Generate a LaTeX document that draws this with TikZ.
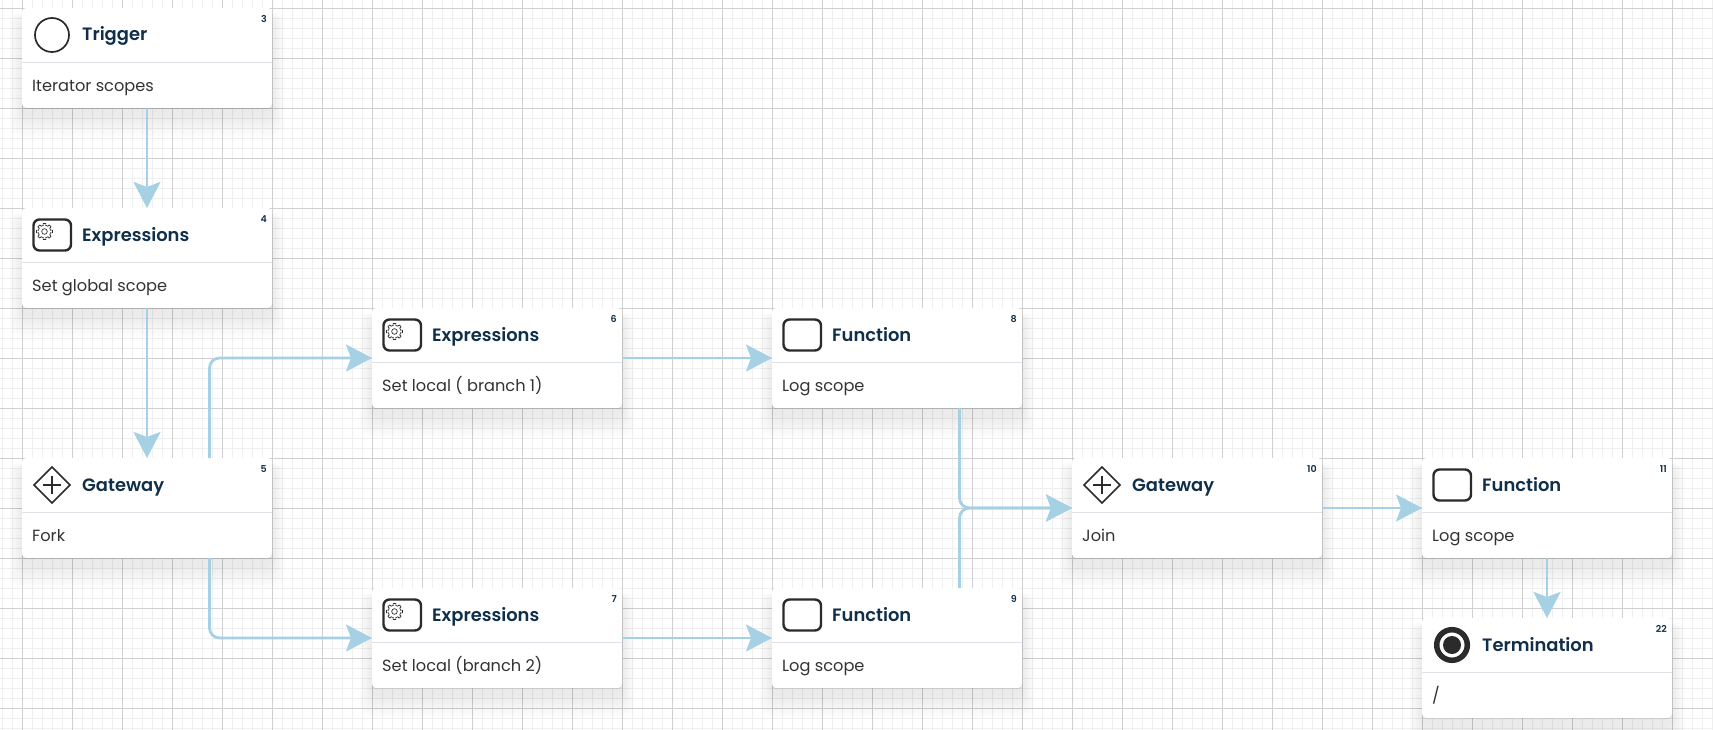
\documentclass[tikz,border=0pt]{standalone}
\usepackage{fontspec}
\setmainfont{Poppins}[BoldFont={Poppins SemiBold}]
\usetikzlibrary{arrows.meta,calc}
\definecolor{gridminor}{HTML}{EFEFEF}
\definecolor{gridmajor}{HTML}{D0D0D0}
\definecolor{flow}{HTML}{A6D0E4}
\definecolor{titleblue}{HTML}{0F2F4A}
\definecolor{bodygrey}{HTML}{333333}
\definecolor{iconink}{HTML}{2B2B2B}
\definecolor{rulegrey}{HTML}{DFE1E8}
\tikzset{
  x=1pt,y=-1pt,
  cardbox/.style={fill=white,rounded corners=4pt,minimum width=250pt,minimum height=100pt,inner sep=0pt,outer sep=0pt,anchor=north west},
  cardtitle/.style={anchor=base west,inner sep=0pt,text=titleblue,font=\fontsize{17.9}{20}\selectfont\bfseries},
  cardbody/.style={anchor=base west,inner sep=0pt,text=bodygrey,font=\fontsize{16.2}{18}\selectfont},
  cardnum/.style={anchor=base east,inner sep=0pt,text=titleblue,font=\fontsize{9.5}{10}\selectfont\bfseries},
  flowline/.style={draw=flow,line width=2.8pt,rounded corners=10pt,-{Stealth[length=26pt,width=27pt,inset=5pt,fill=flow]}},
  iconline/.style={draw=iconink,line width=1.7pt},
}
\newcommand{\iconcircle}{\draw[iconline] (30,27) circle[radius=17];}
\newcommand{\icontask}{\draw[iconline,line width=2.4pt,rounded corners=6pt] (11.5,11.5) rectangle (49,42.5);}
\newcommand{\icongear}{%
  \draw[iconink,line width=.7pt] plot[domain=0:360,samples=145,variable=\t] ({22.5+(6.2+1.8*(cos(8*\t)>0))*cos(\t)},{23.5+(6.2+1.8*(cos(8*\t)>0))*sin(\t)}) -- cycle;
  \draw[iconink,line width=.7pt] (22.5,23.5) circle[radius=2.8];}
\newcommand{\iconexpr}{\icontask\icongear}
\newcommand{\icongate}{\draw[iconline,line join=miter] (30,9) -- (48,27) -- (30,45) -- (12,27) -- cycle;
  \draw[iconline] (21,27) -- (39,27) (30,18) -- (30,36);}
\newcommand{\iconend}{\draw[iconink,line width=5.5pt] (30,27) circle[radius=15.3];\fill[iconink] (30,27) circle[radius=9];}
% #1 name, #2 x, #3 y, #4 icon, #5 title, #6 body, #7 number
\newcommand{\card}[7]{%
  \begin{scope}[shift={(#2,#3)}]
    \foreach \s in {0,1,...,19}{\fill[black,opacity=.0055,rounded corners=10pt] (-13+\s*.65,4+\s*.3) rectangle (263-\s*.65,130-\s*1.1);}
    \fill[black,opacity=.1,rounded corners=4pt] (0,2) rectangle (250,101);
    \node[cardbox] (#1) at (0,0) {};
    \draw[rulegrey,line width=1pt] (0,54.5) -- (250,54.5);
    #4
    \node[cardtitle] (#1t) at (60,33) {#5};
    \node[cardbody] (#1b) at (10,83.3) {#6};
    \node[cardnum] (#1n) at (245,14.5) {#7};
  \end{scope}}
\begin{document}
\begin{tikzpicture}
\useasboundingbox (0,0) rectangle (1713,730);
\fill[white] (0,0) rectangle (1713,730);
\foreach \i in {0,...,171}{\draw[gridminor,line width=.8pt] (2.5+\i*10,0) -- (2.5+\i*10,730);}
\foreach \i in {0,...,73}{\draw[gridminor,line width=.8pt] (0,-1.5+\i*10) -- (1713,-1.5+\i*10);}
\foreach \i in {0,...,34}{\draw[gridmajor,line width=.9pt] (22.5+\i*50,0) -- (22.5+\i*50,730);}
\foreach \i in {0,...,14}{\draw[gridmajor,line width=.9pt] (0,8.5+\i*50) -- (1713,8.5+\i*50);}
\card{trig}{22}{8}{\iconcircle}{Trigger}{Iterator scopes}{3}
\card{exg}{22}{208}{\iconexpr}{Expressions}{Set global scope}{4}
\card{fork}{22}{458}{\icongate}{Gateway}{Fork}{5}
\card{exa}{372}{308}{\iconexpr}{Expressions}{Set local ( branch 1)}{6}
\card{exb}{372}{588}{\iconexpr}{Expressions}{Set local (branch 2)}{7}
\card{funa}{772}{308}{\icontask}{Function}{Log scope}{8}
\card{funb}{772}{588}{\icontask}{Function}{Log scope}{9}
\card{join}{1072}{458}{\icongate}{Gateway}{Join}{10}
\card{func}{1422}{458}{\icontask}{Function}{Log scope}{11}
\card{term}{1422}{618}{\iconend}{Termination}{/}{22}
\draw[flowline] (trig.south) -- (exg.north);
\draw[flowline] (exg.south) -- (fork.north);
\coordinate (forkup) at ($(fork.north west)!.75!(fork.north east)$);
\coordinate (forkdn) at ($(fork.south west)!.75!(fork.south east)$);
\coordinate (funaout) at ($(funa.south west)!.75!(funa.south east)$);
\coordinate (funbout) at ($(funb.north west)!.75!(funb.north east)$);
\draw[flowline] (forkup) |- (exa.west);
\draw[flowline] (forkdn) |- (exb.west);
\draw[flowline] (exa.east) -- (funa.west);
\draw[flowline] (exb.east) -- (funb.west);
\draw[flowline] (funaout) |- (join.west);
\draw[flowline] (funbout) |- (join.west);
\draw[flowline] (join.east) -- (func.west);
\draw[flowline] (func.south) -- (term.north);
\end{tikzpicture}
\end{document}
